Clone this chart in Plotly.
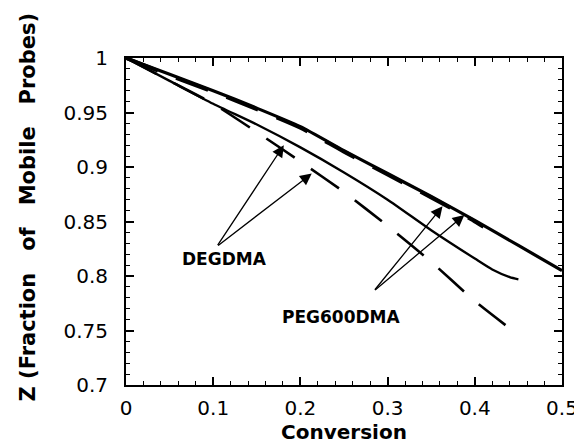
import plotly.graph_objects as go

# Top thick solid curve
conv_a = [0, 0.05, 0.1, 0.15, 0.2, 0.25, 0.3, 0.35, 0.4, 0.45, 0.5]
z_a = [1, 0.985, 0.970, 0.954, 0.937, 0.915, 0.894, 0.873, 0.851, 0.828, 0.805]

# Thick dashed curve running along the top curve
conv_b = [0, 0.05, 0.1, 0.15, 0.2, 0.25, 0.3, 0.35, 0.4, 0.41]
z_b = [1, 0.984, 0.969, 0.953, 0.936, 0.914, 0.893, 0.872, 0.850, 0.845]

# Thin solid curve
conv_c = [0, 0.05, 0.1, 0.15, 0.2, 0.25, 0.3, 0.35, 0.4, 0.42, 0.44, 0.45]
z_c = [1, 0.979, 0.958, 0.939, 0.918, 0.895, 0.870, 0.842, 0.816, 0.806, 0.799, 0.797]

# Lower dashed curve
conv_d = [0, 0.05, 0.1, 0.15, 0.2, 0.25, 0.3, 0.35, 0.4, 0.44]
z_d = [1, 0.979, 0.958, 0.932, 0.905, 0.877, 0.846, 0.813, 0.777, 0.752]

x_ticks = [0, 0.1, 0.2, 0.3, 0.4, 0.5]
y_ticks = [0.7, 0.75, 0.8, 0.85, 0.9, 0.95, 1]

# Labels and arrows
label_names = ["DEGDMA", "PEG600DMA"]
label_x = [0.113, 0.247]
label_y = [0.816, 0.762]
arrow_tail_x = [0.104, 0.104, 0.284, 0.284]
arrow_tail_y = [0.827, 0.827, 0.786, 0.786]
arrow_tip_x = [0.181, 0.213, 0.363, 0.388]
arrow_tip_y = [0.920, 0.894, 0.864, 0.856]

y_title = "Z\u00a0(Fraction\u00a0\u00a0\u00a0of\u00a0\u00a0\u00a0Mobile\u00a0\u00a0\u00a0Probes)"

fig = go.Figure()
fig.add_trace(go.Scatter(x=conv_c, y=z_c, mode="lines",
                         line=dict(color="black", width=2.3, shape="spline", smoothing=0.6)))
fig.add_trace(go.Scatter(x=conv_d, y=z_d, mode="lines",
                         line=dict(color="black", width=2.6, dash="34px,20px", shape="spline", smoothing=0.6)))
fig.add_trace(go.Scatter(x=conv_a, y=z_a, mode="lines",
                         line=dict(color="black", width=3.2, shape="spline", smoothing=0.6)))
fig.add_trace(go.Scatter(x=conv_b, y=z_b, mode="lines",
                         line=dict(color="black", width=3.8, dash="34px,20px", shape="spline", smoothing=0.6)))

for tx, ty, hx, hy in zip(arrow_tail_x, arrow_tail_y, arrow_tip_x, arrow_tip_y):
    fig.add_annotation(x=hx, y=hy, ax=tx, ay=ty, xref="x", yref="y", axref="x", ayref="y",
                       text="", showarrow=True, arrowhead=2, arrowsize=1.8, arrowwidth=1.3,
                       arrowcolor="black", standoff=0, startstandoff=0)

for name, lx, ly in zip(label_names, label_x, label_y):
    fig.add_annotation(x=lx, y=ly, xref="x", yref="y", text="<b>%s</b>" % name, showarrow=False,
                       font=dict(family="DejaVu Sans", size=17, color="black"))

fig.add_annotation(x=0, y=0.5, xref="paper", yref="paper", xanchor="center", yanchor="middle",
                   xshift=-99, yshift=14, textangle=-90, showarrow=False,
                   text="<b>%s</b>" % y_title,
                   font=dict(family="DejaVu Sans", size=21, color="black"))

axis_common = dict(showline=True, linecolor="black", linewidth=2, mirror="ticks", ticks="inside",
                   tickcolor="black", tickwidth=1.5, ticklen=8, showgrid=False, zeroline=False,
                   tickfont=dict(family="DejaVu Sans", size=20, color="black"))

fig.update_xaxes(range=[0, 0.5], tickvals=x_ticks, ticktext=[("%g" % v) for v in x_ticks],
                 minor=dict(dtick=0.02, ticks="inside", ticklen=4, tickcolor="black", tickwidth=1.2),
                 title=dict(text="<b>Conversion</b>", font=dict(family="DejaVu Sans", size=20, color="black"), standoff=6),
                 ticklabelstandoff=4, **axis_common)
fig.update_yaxes(range=[0.7, 1], tickvals=y_ticks, ticktext=[("%g" % v) for v in y_ticks],
                 minor=dict(dtick=0.01, ticks="inside", ticklen=4, tickcolor="black", tickwidth=1.2),
                 ticklabelstandoff=12, **axis_common)

fig.update_layout(width=582, height=444, margin=dict(l=118, r=21, t=50, b=64),
                  paper_bgcolor="white", plot_bgcolor="white", showlegend=False)

fig.write_html("out.html")
